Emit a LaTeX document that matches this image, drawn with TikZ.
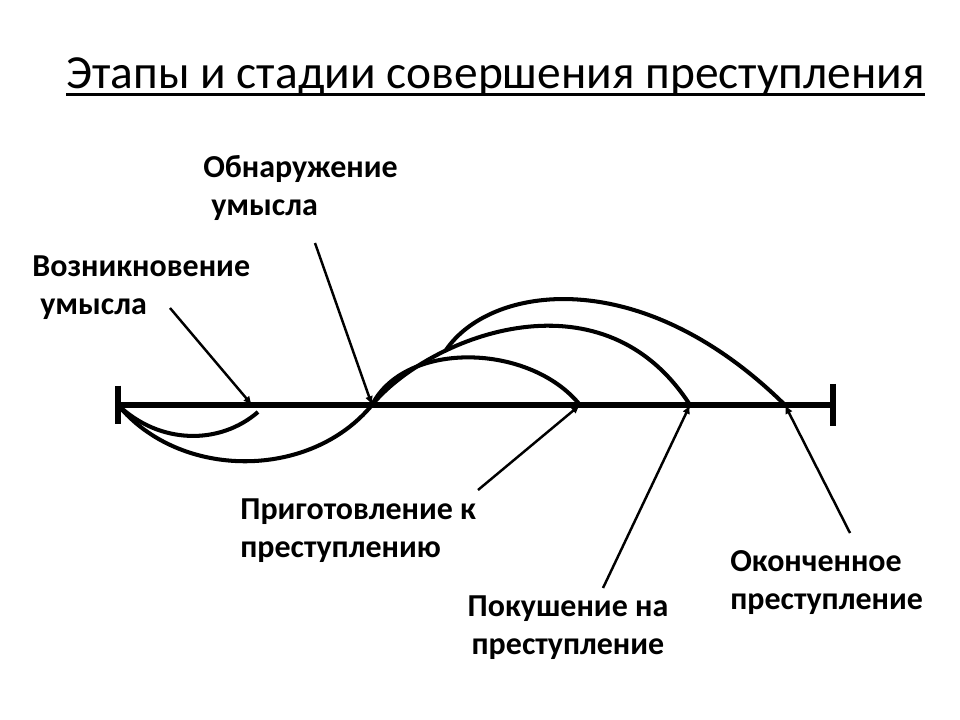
\documentclass[tikz,border=0pt]{standalone}
\usepackage{fontspec}
\setmainfont{Carlito}
\usetikzlibrary{arrows.meta}
\begin{document}
\begin{tikzpicture}[x=0.2mm, y=-0.2mm, >={Latex[length=5pt,width=4.5pt]},
axis/.style = {line width=3.4pt},
arc/.style = {line width=2.3pt},
lead/.style = {line width=1.4pt, ->},
lbl/.style = {font=\fontsize{18.2}{21.8}\selectfont\bfseries, inner sep=0pt, align=left, anchor=north west}]

    \useasboundingbox (0,0) rectangle (960,720);

    \node[inner sep=0pt, anchor=base west, font=\fontsize{27}{32}\selectfont] (title) at (66,89) {Этапы и стадии совершения преступления};
    \draw[line width=1.7pt] ([yshift=-3.2pt]title.base west) -- ([yshift=-3.2pt]title.base east);

    \coordinate (L) at (118,405);
    \coordinate (R) at (833,405);
    \coordinate (vozn) at (252,405);
    \coordinate (obn) at (372,405);
    \coordinate (prig) at (580,405);
    \coordinate (pok) at (690,405);
    \coordinate (okon) at (785,405);
    \coordinate (v1) at (258,412);
    \coordinate (br) at (446,350);

    \draw[axis] (L) -- (R);
    \draw[axis] ([yshift=11pt]L) -- ([yshift=-11pt]L);
    \draw[axis] ([yshift=12pt]R) -- ([yshift=-12pt]R);

    \draw[arc] (L) .. controls (160,445) and (220,445) .. (v1);
    \draw[arc] (L) .. controls (180,480) and (310,480) .. (obn) .. controls (425,340) and (600,265) .. (pok);
    \draw[arc] (obn) .. controls (405,340) and (530,343) .. (prig);
    \draw[arc] (br) .. controls (490,285) and (640,262) .. (okon);

    \node[lbl] (1) at (32,255) {Возникновение\\\hspace{0.25em}умысла};
    \node[lbl] (2) at (203,155) {Обнаружение\\\hspace{0.25em}умысла};
    \node[lbl] (3) at (240,498) {Приготовление к\\преступлению};
    \node[lbl, align=center, anchor=north] (4) at (568,595) {Покушение на\\преступление};
    \node[lbl] (5) at (730,550) {Оконченное\\преступление};

    \coordinate (a1) at (170,308);
    \coordinate (b1) at (315,243);
    \coordinate (c1) at (478,490);
    \coordinate (d1) at (603,588);
    \coordinate (e1) at (850,533);

    \draw [lead] (a1) -- (vozn);
    \draw [lead] (b1) -- (obn);
    \draw [lead] (c1) -- (prig);
    \draw [lead] (d1) -- (pok);
    \draw [lead] (e1) -- (okon);

\end{tikzpicture}
\end{document}
